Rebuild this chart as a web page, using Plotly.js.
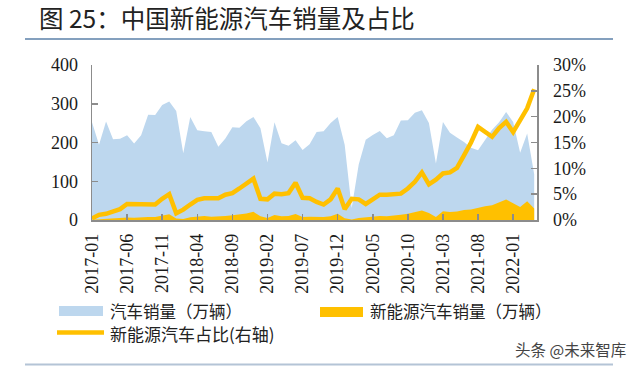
<!DOCTYPE html>
<html>
<head>
<meta charset="utf-8">
<script src="https://cdn.plot.ly/plotly-3.0.1.min.js"></script>
<style>
  html, body { margin: 0; padding: 0; background: #ffffff; }
  #chart { width: 640px; height: 366px; }
</style>
</head>
<body>
<div id="chart"></div>
<script>
// ---- Data ----
const months = [
  '2017-01','2017-02','2017-03','2017-04','2017-05','2017-06','2017-07','2017-08','2017-09','2017-10','2017-11','2017-12',
  '2018-01','2018-02','2018-03','2018-04','2018-05','2018-06','2018-07','2018-08','2018-09','2018-10','2018-11','2018-12',
  '2019-01','2019-02','2019-03','2019-04','2019-05','2019-06','2019-07','2019-08','2019-09','2019-10','2019-11','2019-12',
  '2020-01','2020-02','2020-03','2020-04','2020-05','2020-06','2020-07','2020-08','2020-09','2020-10','2020-11','2020-12',
  '2021-01','2021-02','2021-03','2021-04','2021-05','2021-06','2021-07','2021-08','2021-09','2021-10','2021-11','2021-12',
  '2022-01','2022-02','2022-03','2022-04'
];

// 汽车销量（万辆）
const totalSales = [
  252.0, 193.9, 254.4, 208.4, 209.6, 218.6, 197.5, 218.6, 271.3, 270.8, 296.5, 305.6,
  281.0, 172.5, 265.6, 231.9, 228.8, 227.4, 188.9, 210.3, 239.4, 238.0, 254.8, 266.1,
  236.7, 148.2, 252.0, 198.0, 191.3, 205.6, 180.9, 195.8, 227.1, 229.1, 250.2, 265.7,
  194.1,  31.0, 143.0, 207.0, 219.4, 229.8, 211.2, 218.6, 256.5, 257.3, 276.6, 283.1,
  250.3, 145.5, 252.6, 225.2, 212.8, 201.5, 186.4, 179.9, 206.7, 233.2, 252.2, 278.6,
  253.1, 173.7, 223.4, 118.1
];

// 新能源汽车销量（万辆）
const nevSales = [
   0.7,  1.8,  3.1,  3.4,  4.5,  6.7,  5.6,  7.2,  7.8,  7.9, 12.1, 14.8,
   4.0,  2.5,  6.8,  8.2, 10.2,  8.4,  8.4, 10.1, 12.1, 13.8, 16.9, 21.0,
   9.6,  5.3, 12.6,  9.7, 10.4, 15.2,  8.0,  8.5,  8.0,  7.5,  9.5, 16.3,
   4.4,  1.3,  5.3,  7.2,  8.2, 10.4,  9.8, 10.9, 13.8, 16.0, 20.0, 24.8,
  17.9,  8.0, 22.6, 20.6, 21.7, 25.6, 27.1, 32.1, 35.7, 38.3, 45.0, 53.1,
  43.1, 33.4, 48.4, 29.9
];

// 新能源汽车占比（%，右轴）
const nevShare = [
   0.3,  1.0,  1.2,  1.7,  2.1,  3.1,  3.1,  3.1,  3.0,  3.0,  4.1,  5.0,
   1.3,  2.0,  3.0,  3.9,  4.2,  4.2,  4.2,  4.9,  5.2,  6.1,  7.0,  8.0,
   4.1,  4.0,  5.1,  5.0,  5.2,  7.2,  4.3,  4.2,  3.5,  3.0,  4.0,  6.1,
   2.1,  4.1,  4.0,  3.1,  4.0,  4.9,  4.9,  5.0,  5.1,  6.1,  7.4,  9.2,
   6.9,  7.8,  9.0,  9.2, 10.1, 12.5, 15.0, 18.0, 17.1, 16.1, 17.8, 19.0,
  17.0, 19.1, 21.6, 25.3
];

const xTickLabels = ['2017-01','2017-06','2017-11','2018-04','2018-09','2019-02','2019-07',
                     '2019-12','2020-05','2020-10','2021-03','2021-08','2022-01'];

const seriesNames = ['汽车销量（万辆）', '新能源汽车销量（万辆）', '新能源汽车占比(右轴)'];
const titleText = '图 25：中国新能源汽车销量及占比';
const watermarkText = '头条 @未来智库';

// ---- Style ----
const BLUE = '#bdd7ee';
const GOLD = '#ffc000';
const AXIS = '#8c8c8c';
const CJK = 'Noto Sans CJK SC';

// plot area in pixels
const L = 92, R = 537, T = 65, B = 220;
const W = 640, H = 366;
const px = x => (x - L) / (R - L);
const py = y => (B - y) / (B - T);

const traces = [
  {
    x: months, y: totalSales, name: seriesNames[0], type: 'scatter', mode: 'lines',
    fill: 'tozeroy', fillcolor: BLUE, line: { width: 0, color: BLUE }, hoverinfo: 'x+y'
  },
  {
    x: months, y: nevSales, name: seriesNames[1], type: 'scatter', mode: 'lines',
    fill: 'tozeroy', fillcolor: GOLD, line: { width: 0, color: GOLD }, hoverinfo: 'x+y'
  },
  {
    x: months, y: nevShare.map(v => v / 100), name: seriesNames[2], type: 'scatter', mode: 'lines',
    yaxis: 'y2', line: { width: 4.5, color: GOLD }, hoverinfo: 'x+y'
  }
];

const layout = {
  width: W, height: H,
  font: { family: 'serif', size: 18, color: '#1a1a1a' },
  margin: { l: L, r: W - R, t: T, b: H - B, pad: 0 },
  paper_bgcolor: '#ffffff', plot_bgcolor: 'rgba(0,0,0,0)',
  showlegend: false,
  title: {
    text: titleText, xref: 'container', yref: 'container',
    x: 39 / W, xanchor: 'left', y: 1 - 19 / H, yanchor: 'middle',
    font: { family: CJK, size: 24.5, color: '#222222' }
  },
  xaxis: {
    type: 'category', range: [0, 63.4], fixedrange: true,
    tickmode: 'array', tickvals: xTickLabels, ticktext: xTickLabels,
    tickangle: -90, tickfont: { family: 'Liberation Serif', size: 18, color: '#1a1a1a' },
    ticks: 'inside', ticklen: 6, tickwidth: 1.5, tickcolor: AXIS,
    showline: true, linecolor: AXIS, linewidth: 1.5,
    showgrid: false, zeroline: false, ticklabelstandoff: 5
  },
  yaxis: {
    range: [0, 400], dtick: 100, tickfont: { family: 'serif', size: 18, color: '#1a1a1a' },
    ticks: 'inside', ticklen: 6, tickwidth: 1.5, tickcolor: AXIS,
    showline: true, linecolor: AXIS, linewidth: 1.5,
    showgrid: false, zeroline: false, ticklabelstandoff: 9
  },
  yaxis2: {
    overlaying: 'y', side: 'right', anchor: 'x',
    range: [0, 0.30], dtick: 0.05, tickformat: '.0%',
    tickfont: { family: 'Times New Roman', size: 18, color: '#1a1a1a' },
    ticks: 'inside', ticklen: 6, tickwidth: 1.5, tickcolor: AXIS,
    showline: true, linecolor: AXIS, linewidth: 1.5,
    showgrid: false, zeroline: false, ticklabelstandoff: 11
  },
  shapes: [
    { type: 'line', xref: 'paper', yref: 'paper', x0: px(25), x1: px(613), y0: py(39), y1: py(39),
      line: { color: '#5b80a8', width: 1.5 } },
    { type: 'line', xref: 'paper', yref: 'paper', x0: px(25), x1: px(613), y0: py(364.5), y1: py(364.5),
      line: { color: '#b4c4d6', width: 2 } },
    { type: 'rect', xref: 'paper', yref: 'paper', x0: px(59), x1: px(103), y0: py(316), y1: py(306),
      fillcolor: BLUE, line: { width: 0 } },
    { type: 'rect', xref: 'paper', yref: 'paper', x0: px(320), x1: px(363), y0: py(317), y1: py(307),
      fillcolor: GOLD, line: { width: 0 } },
    { type: 'line', xref: 'paper', yref: 'paper', x0: px(57), x1: px(104), y0: py(332.5), y1: py(332.5),
      line: { color: GOLD, width: 4.5 } }
  ],
  annotations: [
    { text: seriesNames[0], xref: 'paper', yref: 'paper', x: px(108), y: py(311), xanchor: 'left', yanchor: 'middle',
      showarrow: false, font: { family: CJK, size: 16.5, color: '#222222' } },
    { text: seriesNames[1], xref: 'paper', yref: 'paper', x: px(368), y: py(311), xanchor: 'left', yanchor: 'middle',
      showarrow: false, font: { family: CJK, size: 16.5, color: '#222222' } },
    { text: seriesNames[2], xref: 'paper', yref: 'paper', x: px(108), y: py(333), xanchor: 'left', yanchor: 'middle',
      showarrow: false, font: { family: CJK, size: 17, color: '#222222' } },
    { text: watermarkText, xref: 'paper', yref: 'paper', x: px(628), y: py(349), xanchor: 'right', yanchor: 'middle',
      showarrow: false, font: { family: CJK, size: 15.5, color: '#444444' } }
  ]
};

Plotly.newPlot('chart', traces, layout, { staticPlot: true, displayModeBar: false });
</script>
</body>
</html>
